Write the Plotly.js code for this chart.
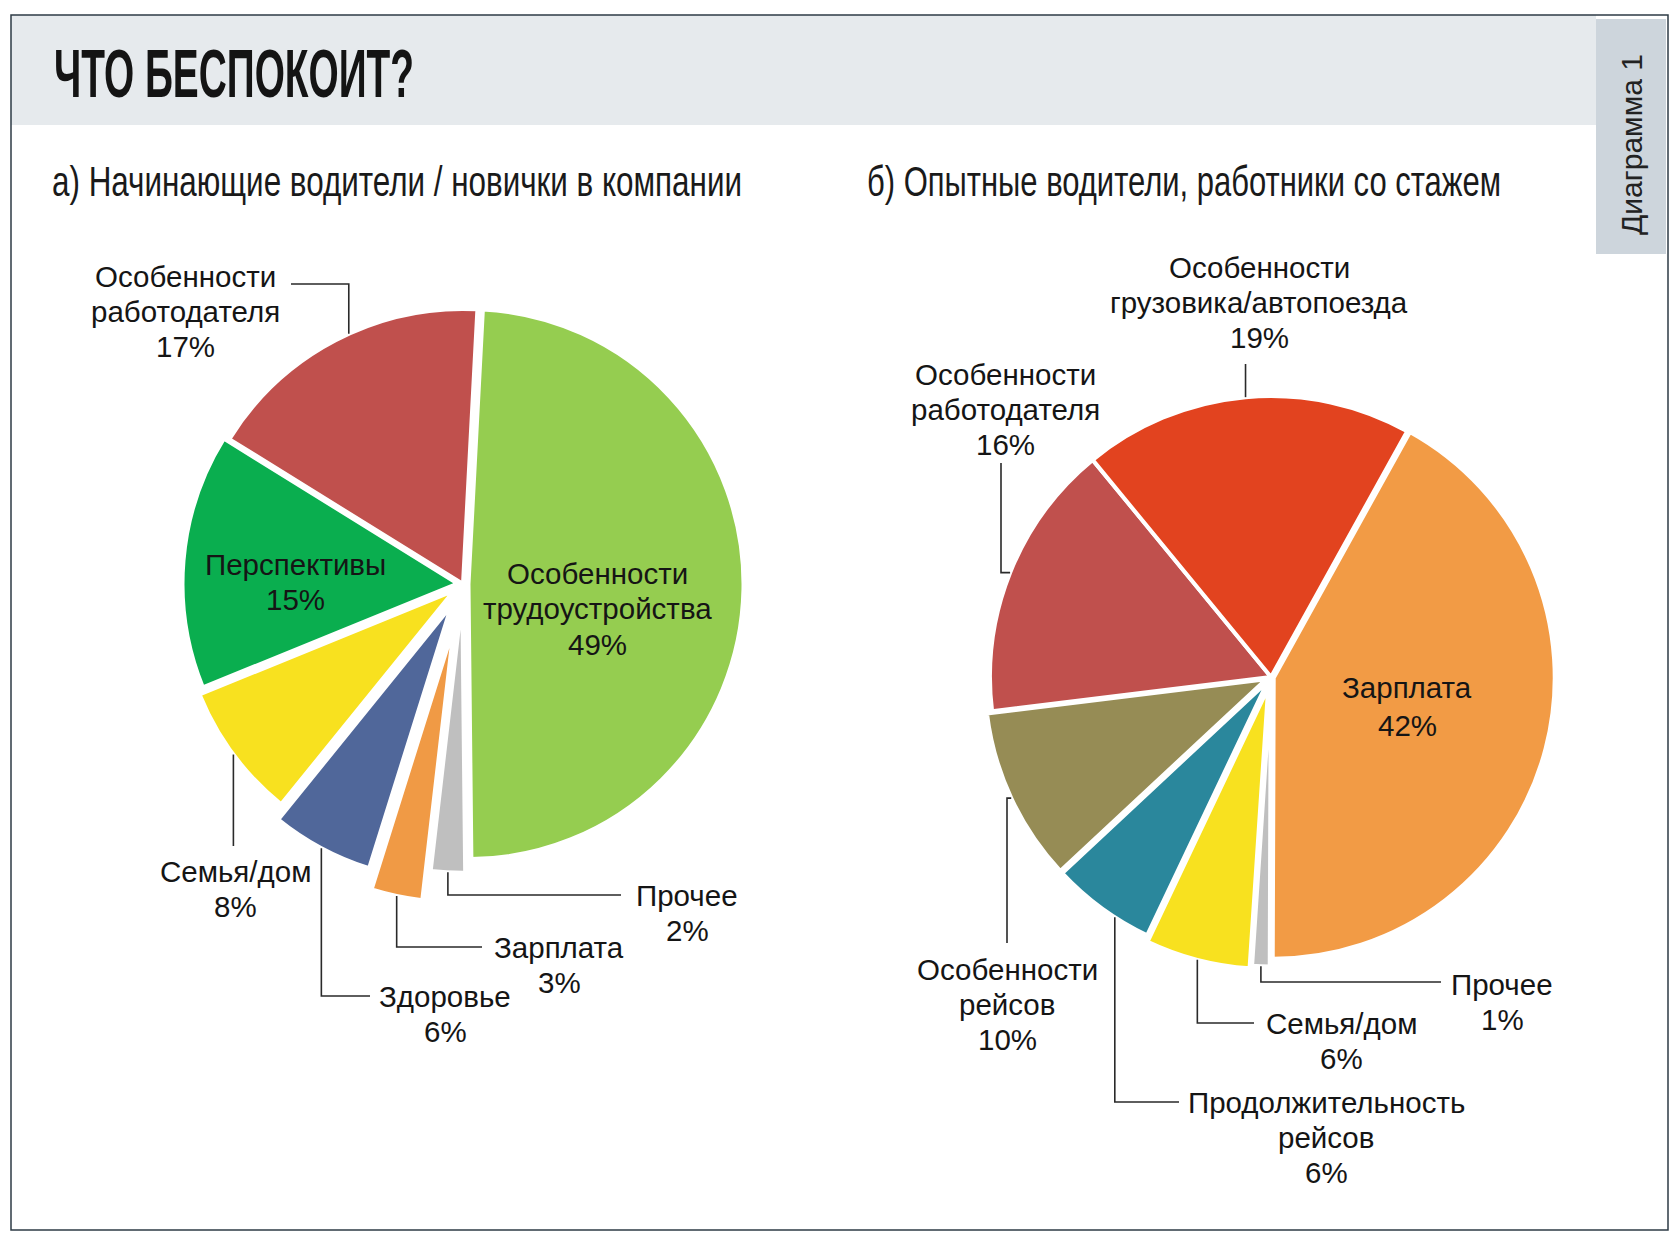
<!DOCTYPE html>
<html><head><meta charset="utf-8">
<script src="https://cdn.plot.ly/plotly-3.0.1.min.js"></script>
<style>html,body{margin:0;padding:0;background:#fff}#chart{width:1680px;height:1244px}</style>
</head><body><div id="chart"></div>
<script>
// ---------- DATA ----------
const titleMain = 'ЧТО БЕСПОКОИТ?';
const subtitleA = 'а) Начинающие водители / новички в компании';
const subtitleB = 'б) Опытные водители, работники со стажем';
const sideLabel = 'Диаграмма 1';

const categoriesA = ['Особенности трудоустройства', 'Прочее', 'Зарплата', 'Здоровье', 'Семья/дом', 'Перспективы', 'Особенности работодателя'];
const valuesA = [49, 2, 3, 6, 8, 15, 17];

const categoriesB = ['Зарплата', 'Прочее', 'Семья/дом', 'Продолжительность рейсов', 'Особенности рейсов', 'Особенности работодателя', 'Особенности грузовика/автопоезда'];
const valuesB = [42, 1, 6, 6, 10, 16, 19];

// ---------- STYLE / LAYOUT ----------
const W = 1680, H = 1244;
const colorsA = ['#95cd50', '#bfbfbf', '#f09a45', '#50679a', '#f8e11f', '#0aae4f', '#c0504d'];
const pullsA = [0.02, 0.05, 0.16, 0.09, 0.04, 0.02, 0];
const colorsB = ['#f29b45', '#bfbfbf', '#f8e11f', '#2a879c', '#968c55', '#c0504d', '#e2431f'];
const pullsB = [0.01, 0.03, 0.04, 0.02, 0.02, 0, 0];

const pieA = {cx: 463, cy: 584, R: 275, rotation: 3};
const pieB = {cx: 1271, cy: 677, R: 281, rotation: 29};

// label placement (pixels): x = centre of text, y = centre of first line
const placeA = [
  {inside: true, x: 597, y: 574},
  {x: 687, y: 895, conn: 'vh', tx: 621},
  {x: 559, y: 947, conn: 'vh', tx: 482},
  {x: 445, y: 996, conn: 'vh', tx: 370},
  {x: 235, y: 871, conn: 'v', ty: 846},
  {inside: true, x: 295, y: 564},
  {x: 185, y: 277, conn: 'vh', tx: 291, ly: 284, frac: 0.55}
];
const placeB = [
  {inside: true, x: 1407, y: 687, dy: 38},
  {x: 1502, y: 984, conn: 'vh', tx: 1441, ly: 982},
  {x: 1341, y: 1023, conn: 'vh', tx: 1254},
  {x: 1326, y: 1102, conn: 'vh', tx: 1179, frac: 0.35},
  {x: 1007, y: 969, conn: 'hv', tx: 1007, ty: 943},
  {x: 1005, y: 374, conn: 'hv', tx: 1001, ty: 463},
  {x: 1259, y: 267, conn: 'v', ty: 364}
];

const LABEL_FONT = {family: 'Liberation Sans, Arial, sans-serif', size: 29.5, color: '#151515'};
const LINE_H = 35;
const NARROW = 'Liberation Sans Narrow';
const CAP_RATIO = 0.716;

const px = x => x / W;
const py = y => 1 - y / H;

// condensed headings: font size chosen so the natural width fits, then stretched vertically to the cap height
const headings = [
  {text: titleMain, x: 52, y: 74, width: 360, cap: 49, weight: 'bold', color: '#141414'},
  {text: subtitleA, x: 50, y: 181, width: 690, cap: 31, weight: 'normal', color: '#1a1a1a'},
  {text: subtitleB, x: 865, y: 181, width: 634, cap: 31, weight: 'normal', color: '#1a1a1a'}
];
const ctx = document.createElement('canvas').getContext('2d');
headings.forEach(h => {
  ctx.font = (h.weight === 'bold' ? 'bold ' : '') + '100px "' + NARROW + '"';
  const w = ctx.measureText(h.text).width || (h.text.length * 40);
  h.size = 100 * h.width / w;
  h.scaleY = h.cap / (CAP_RATIO * h.size);
});

function domainFor(p, pulls) {
  const half = p.R * (1 + Math.max(...pulls));
  return {x: [px(p.cx - half), px(p.cx + half)], y: [py(p.cy + half), py(p.cy - half)]};
}

const traces = [
  {type: 'pie', labels: categoriesA, values: valuesA, sort: false, direction: 'clockwise',
   rotation: pieA.rotation, pull: pullsA, textinfo: 'none', hoverinfo: 'none',
   marker: {colors: colorsA, line: {color: '#ffffff', width: 4}}, domain: domainFor(pieA, pullsA)},
  {type: 'pie', labels: categoriesB, values: valuesB, sort: false, direction: 'clockwise',
   rotation: pieB.rotation, pull: pullsB, textinfo: 'none', hoverinfo: 'none',
   marker: {colors: colorsB, line: {color: '#ffffff', width: 4}}, domain: domainFor(pieB, pullsB)}
];

const annotations = [];
headings.forEach(h => {
  annotations.push({text: h.text, x: px(h.x), y: py(h.y), xref: 'paper', yref: 'paper', xanchor: 'left', yanchor: 'middle', align: 'left', showarrow: false,
    font: {family: NARROW + ', Liberation Sans, sans-serif', size: h.size, weight: h.weight, color: h.color}});
});
annotations.push({text: sideLabel, x: px(1631), y: py(145), xref: 'paper', yref: 'paper', xanchor: 'center', yanchor: 'middle', textangle: -90, showarrow: false,
  font: {family: 'Liberation Sans, Arial, sans-serif', size: 30, color: '#222'}});

function addLabels(cats, vals, place) {
  cats.forEach((c, i) => {
    const pl = place[i];
    const lines = c.split(' ').concat([vals[i] + '%']);
    const dy = pl.dy || LINE_H;
    lines.forEach((ln, k) => {
      annotations.push({text: ln, x: px(pl.x), y: py(pl.y + k * dy), xref: 'paper', yref: 'paper',
        xanchor: 'center', yanchor: 'middle', showarrow: false, font: LABEL_FONT});
    });
  });
}
addLabels(categoriesA, valuesA, placeA);
addLabels(categoriesB, valuesB, placeB);

const baseShapes = [
  {type: 'rect', xref: 'paper', yref: 'paper', x0: px(11), x1: px(1596), y0: py(125), y1: py(15), fillcolor: '#e6eaed', line: {width: 0}, layer: 'below'},
  {type: 'rect', xref: 'paper', yref: 'paper', x0: px(1596), x1: px(1666), y0: py(254), y1: py(19), fillcolor: '#cdd5dc', line: {width: 0}, layer: 'below'},
  {type: 'rect', xref: 'paper', yref: 'paper', x0: px(11), x1: px(1668), y0: py(1230), y1: py(15), fillcolor: 'rgba(0,0,0,0)', line: {color: '#2e3b45', width: 1.5}, layer: 'above'}
];

const layout = {
  width: W, height: H, margin: {l: 0, r: 0, t: 0, b: 0},
  paper_bgcolor: '#ffffff', plot_bgcolor: '#ffffff', showlegend: false,
  font: {family: 'Liberation Sans, Arial, sans-serif'},
  annotations: annotations, shapes: baseShapes
};

function edgePoints(vals, pulls, rot, cx, cy, r, place) {
  const tot = vals.reduce((a, b) => a + b, 0);
  let cum = 0; const out = [];
  vals.forEach((v, i) => {
    const a0 = rot + 360 * cum / tot, a1 = rot + 360 * (cum + v) / tot; cum += v;
    const mid = (a0 + a1) / 2 * Math.PI / 180;
    const p = pulls[i] || 0;
    const ox = cx + p * r * Math.sin(mid), oy = cy - p * r * Math.cos(mid);
    const f = (place[i].frac !== undefined) ? place[i].frac : 0.5;
    const a = (a0 + f * (a1 - a0)) * Math.PI / 180;
    out.push([ox + r * Math.sin(a), oy - r * Math.cos(a)]);
  });
  return out;
}

function leaderShapes(vals, pulls, rot, geom, place) {
  const pts = edgePoints(vals, pulls, rot, geom.cx, geom.cy, geom.r, place);
  const shapes = [];
  place.forEach((pl, i) => {
    if (pl.inside) return;
    const [x0, y0] = pts[i];
    let path;
    if (pl.conn === 'vh') {
      const ly = pl.ly !== undefined ? pl.ly : pl.y;
      path = `M ${px(x0)},${py(y0)} L ${px(x0)},${py(ly)} L ${px(pl.tx)},${py(ly)}`;
    } else if (pl.conn === 'v') {
      path = `M ${px(x0)},${py(y0)} L ${px(x0)},${py(pl.ty)}`;
    } else {
      path = `M ${px(x0)},${py(y0)} L ${px(pl.tx)},${py(y0)} L ${px(pl.tx)},${py(pl.ty)}`;
    }
    shapes.push({type: 'path', xref: 'paper', yref: 'paper', path: path, line: {color: '#2a2a2a', width: 1.6}, layer: 'above'});
  });
  return shapes;
}

function stretchHeading(idx, h) {
  const t = document.querySelector('#chart .annotation[data-index="' + idx + '"] text.annotation-text');
  if (!t) return;
  t.setAttribute('textLength', h.width);
  t.setAttribute('lengthAdjust', 'spacingAndGlyphs');
  t.style.transformBox = 'fill-box';
  t.style.transformOrigin = 'center';
  t.style.transform = 'scaleY(' + h.scaleY.toFixed(4) + ')';
}

Plotly.newPlot('chart', traces, layout, {staticPlot: true}).then(gd => {
  const geomOf = (k, p) => {
    const c = gd.calcdata && gd.calcdata[k] && gd.calcdata[k][0];
    if (c && isFinite(c.cx) && isFinite(c.r)) return {cx: c.cx, cy: c.cy, r: c.r};
    return {cx: p.cx, cy: p.cy, r: p.R};
  };
  const gA = geomOf(0, pieA), gB = geomOf(1, pieB);
  const shapes = baseShapes
    .concat(leaderShapes(valuesA, pullsA, pieA.rotation, gA, placeA))
    .concat(leaderShapes(valuesB, pullsB, pieB.rotation, gB, placeB));
  return Plotly.relayout(gd, {shapes: shapes});
}).then(() => {
  headings.forEach((h, i) => stretchHeading(i, h));
});
</script>
</body></html>
